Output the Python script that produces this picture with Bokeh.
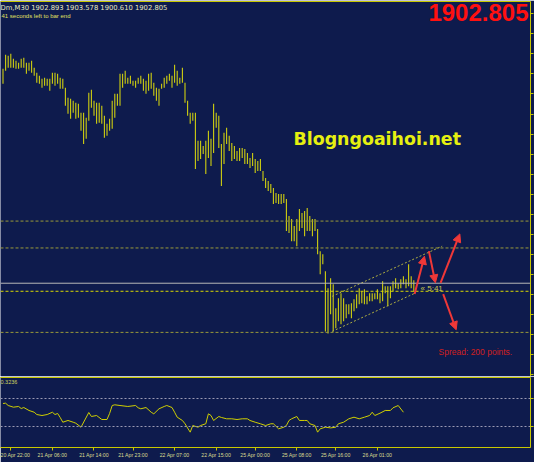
from bokeh.plotting import figure
from bokeh.models import (Range1d, LinearAxis, FixedTicker,
                          Label, Arrow, NormalHead, ColumnDataSource, Span)
from bokeh.layouts import column
from bokeh.embed import file_html
from bokeh.resources import INLINE

# ---------------- data ----------------
highs = [
    1956.30, 1959.80, 1959.55, 1960.05, 1958.80, 1958.30, 1957.80, 1958.80, 1959.05, 1957.80,
    1957.80, 1958.30, 1956.55, 1955.30, 1954.55, 1953.80, 1954.05, 1953.80, 1953.80, 1955.30,
    1955.30, 1955.05, 1954.05, 1953.80, 1951.55, 1949.05, 1948.80, 1948.30, 1947.80, 1947.55,
    1945.30, 1945.30, 1944.05, 1950.30, 1951.05, 1948.30, 1947.80, 1947.80, 1947.05, 1944.55,
    1942.55, 1943.80, 1948.30, 1950.05, 1950.05, 1955.05, 1955.05, 1955.80, 1954.05, 1954.55,
    1953.30, 1953.30, 1954.05, 1954.55, 1953.80, 1953.30, 1955.05, 1955.30, 1952.80, 1951.55,
    1951.30, 1952.55, 1954.05, 1954.55, 1955.05, 1954.55, 1957.30, 1955.80, 1954.05, 1956.55,
    1952.80, 1948.30, 1945.30, 1945.30, 1945.30, 1938.30, 1938.30, 1937.05, 1938.30, 1940.80,
    1938.80, 1947.55, 1945.30, 1944.55, 1937.55, 1940.30, 1941.55, 1939.55, 1937.80, 1937.05,
    1935.80, 1936.55, 1936.55, 1936.30, 1935.30, 1934.05, 1935.30, 1933.80, 1933.30, 1933.80,
    1930.80, 1929.05, 1928.30, 1927.55, 1926.55, 1925.30, 1925.05, 1925.05, 1925.05, 1923.80,
    1919.55, 1918.80, 1917.05, 1918.80, 1921.30, 1920.30, 1920.80, 1921.55, 1919.55, 1918.80,
    1918.80, 1916.30, 1910.80, 1910.05, 1905.80, 1901.55, 1904.05, 1902.55, 1896.55, 1899.05,
    1900.30, 1899.05, 1897.55, 1897.55, 1897.80, 1898.80, 1900.05, 1901.55, 1900.80, 1901.30,
    1899.55, 1900.30, 1900.30, 1900.30, 1901.30, 1900.30, 1903.30, 1902.05, 1902.05, 1902.05,
    1903.30, 1904.05, 1902.80, 1903.80, 1904.55, 1903.80, 1907.55, 1904.55, 1903.578,
]
lows = [
    1952.55, 1955.80, 1956.55, 1956.55, 1956.55, 1956.30, 1956.30, 1956.55, 1956.55, 1955.05,
    1955.80, 1955.30, 1954.55, 1952.80, 1952.55, 1951.55, 1952.05, 1952.05, 1950.80, 1952.55,
    1952.05, 1952.55, 1951.30, 1951.30, 1947.05, 1945.05, 1943.80, 1945.30, 1943.80, 1944.05,
    1940.80, 1937.55, 1938.80, 1943.30, 1946.55, 1944.55, 1942.55, 1942.80, 1942.55, 1939.05,
    1939.55, 1940.80, 1941.30, 1944.05, 1947.05, 1947.05, 1951.55, 1952.55, 1952.55, 1952.55,
    1952.05, 1951.55, 1952.55, 1952.55, 1950.80, 1950.05, 1950.80, 1951.30, 1949.55, 1948.30,
    1947.05, 1951.30, 1951.55, 1952.55, 1953.30, 1951.55, 1952.80, 1952.05, 1952.55, 1952.80,
    1947.80, 1944.55, 1942.55, 1943.30, 1931.30, 1933.30, 1933.80, 1935.05, 1930.05, 1934.05,
    1932.05, 1935.30, 1941.55, 1936.55, 1927.05, 1932.55, 1937.55, 1935.80, 1933.30, 1933.80,
    1933.30, 1933.30, 1934.05, 1932.55, 1932.55, 1931.55, 1932.05, 1930.30, 1930.80, 1930.80,
    1928.30, 1926.55, 1925.80, 1925.30, 1922.55, 1922.80, 1922.55, 1922.55, 1922.80, 1915.80,
    1915.30, 1913.30, 1913.30, 1912.05, 1915.80, 1916.55, 1914.55, 1915.80, 1915.80, 1914.55,
    1915.80, 1910.05, 1905.05, 1907.55, 1890.80, 1890.30, 1895.05, 1890.80, 1891.55, 1893.30,
    1892.55, 1893.30, 1894.05, 1895.05, 1894.05, 1895.80, 1896.55, 1897.55, 1897.80, 1897.55,
    1897.55, 1898.30, 1898.30, 1898.80, 1898.80, 1897.80, 1898.30, 1900.30, 1897.05, 1899.05,
    1900.80, 1901.55, 1901.30, 1901.55, 1902.55, 1901.55, 1902.05, 1901.55, 1900.61,
]
bar_index = list(range(len(highs)))

ind_index = [0, 1, 2, 4, 6, 7, 8, 10, 12, 13, 15, 17, 19, 20, 21, 22, 23, 25, 27, 28,
             30, 33, 34, 36, 38, 40, 41, 42, 43, 45, 48, 51, 52, 53, 55, 57, 58, 60, 62, 63,
             65, 66, 67, 69, 70, 72, 73, 75, 76, 78, 79, 80, 81, 83, 84, 86, 88, 90, 92, 94,
             95, 97, 99, 101, 103, 104, 106, 108, 109, 110, 111, 113, 114, 116, 117, 118, 120, 121, 122, 124,
             126, 128, 129, 131, 133, 135, 137, 139, 141, 142, 143, 145, 147, 149, 150, 152, 154]
ind_values = [62.9, 63.3, 60.0, 57.6, 58.6, 55.7, 57.1, 52.9, 50.4, 47.1, 45.7, 47.1, 50.4, 47.1, 48.6, 42.9, 36.1, 38.6, 36.1, 34.7,
              29.0, 50.0, 44.3, 45.7, 40.0, 40.0, 48.6, 60.0, 61.0, 60.0, 58.6, 60.0, 56.7, 55.3, 57.1, 50.4, 48.1, 55.3, 58.6, 60.0,
              57.1, 50.4, 43.3, 38.6, 33.9, 21.9, 31.4, 29.0, 31.4, 33.9, 48.1, 45.7, 38.6, 44.3, 42.9, 41.0, 41.0, 40.0, 41.0, 41.0,
              38.6, 36.1, 33.9, 31.4, 33.9, 33.9, 26.7, 29.0, 31.4, 38.6, 41.0, 44.3, 38.6, 38.6, 38.6, 33.9, 31.4, 21.9, 26.7, 29.0,
              28.0, 29.0, 33.9, 36.1, 41.0, 43.3, 41.0, 43.3, 45.7, 50.4, 45.7, 49.0, 52.9, 52.9, 56.7, 60.0, 50.4]

tick_index = [3, 19, 35, 50, 66, 82, 97, 113, 128, 144]
tick_labels = ["20 Apr 22:00", "21 Apr 06:00", "21 Apr 14:00", "21 Apr 23:00", "22 Apr 07:00",
               "22 Apr 15:00", "25 Apr 00:00", "25 Apr 08:00", "25 Apr 16:00", "26 Apr 01:00"]

price_ticks = [1880, 1885, 1890, 1895, 1900, 1905, 1910, 1915, 1920, 1925, 1930,
               1935, 1940, 1945, 1950, 1955, 1960, 1965, 1970]

levels = [1918.3, 1911.6, 1900.8, 1890.55]
level_colors = ["#9a9a3a", "#9a9a3a", "#d8d800", "#9a9a3a"]
bid_price = 1902.805
ind_levels = [70, 30]

channel_x0 = [126.6, 126.6]
channel_y0 = [1899.55, 1890.8]
channel_x1 = [168.9, 158.7]
channel_y1 = [1912.05, 1900.4]

arrow_x0 = [158.3, 163.8, 168.3, 169.3]
arrow_y0 = [1900.1, 1910.8, 1902.9, 1900.1]
arrow_x1 = [162.1, 166.3, 175.7, 174.3]
arrow_y1 = [1909.55, 1902.9, 1915.1, 1891.2]

header = "Dm,M30  1902.893 1903.578 1900.610 1902.805"
countdown = "41 seconds left to bar end"
ind_label = "0.3236"

# ---------------- style ----------------
BG = "#0e1b4d"
YEL = "#c8c800"
BAR = "#cfcf10"
RED = "#f03838"
FONT = "Liberation Sans"

xr = Range1d(-0.96, 202.88)

p = figure(width=534, height=376, x_range=xr, y_range=Range1d(1879.55, 1973.05),
           output_backend="svg", toolbar_location=None,
           x_axis_location=None, y_axis_location=None,
           min_border_left=0, min_border_right=4, min_border_top=1, min_border_bottom=0,
           background_fill_color=BG, border_fill_color=BG, outline_line_color=None)
p.grid.visible = False


def border_axis(minor=None):
    ax = LinearAxis(ticker=FixedTicker(ticks=[], minor_ticks=minor or []),
                    axis_line_color=YEL, axis_line_width=1,
                    major_tick_line_color=None, major_tick_out=0, major_tick_in=0,
                    minor_tick_line_color=YEL if minor else None,
                    minor_tick_out=3, minor_tick_in=0,
                    major_label_standoff=0)
    return ax


p.add_layout(border_axis(price_ticks), "right")
p.add_layout(border_axis(), "above")
p.add_layout(border_axis(), "below")

for lv, lc in zip(levels, level_colors):
    p.add_layout(Span(location=lv, dimension="width", line_color=lc,
                      line_width=1, line_dash="3 2"))
p.add_layout(Span(location=bid_price, dimension="width", line_color="#b8b8b8", line_width=1))

src = ColumnDataSource(dict(i=bar_index, high=highs, low=lows))
p.segment(x0="i", y0="low", x1="i", y1="high", source=src, line_color=BAR, line_width=1.1)

p.segment(x0=channel_x0, y0=channel_y0, x1=channel_x1, y1=channel_y1,
          line_color="#b0b040", line_width=1, line_dash="2 2")

asrc = ColumnDataSource(dict(x0=arrow_x0, y0=arrow_y0, x1=arrow_x1, y1=arrow_y1))
p.add_layout(Arrow(end=NormalHead(size=8, fill_color=RED, line_color=RED, line_width=1),
                   x_start="x0", y_start="y0", x_end="x1", y_end="y1", source=asrc,
                   line_color=RED, line_width=2))

p.add_layout(Label(x=0, y=372.5, x_units="screen", y_units="screen", text=header,
                   text_font="DejaVu Sans", text_font_size="6.8px", text_color="#e8e8c0",
                   text_baseline="top", text_align="left"))
p.add_layout(Label(x=1, y=363.5, x_units="screen", y_units="screen", text=countdown,
                   text_font=FONT, text_font_size="6px", text_color="#e0e060",
                   text_baseline="top", text_align="left"))
p.add_layout(Label(x=528, y=373, x_units="screen", y_units="screen", text="1902.805",
                   text_font=FONT, text_font_size="24px", text_font_style="bold",
                   text_color="#ff1010", text_baseline="top", text_align="right"))
p.add_layout(Label(x=293, y=248, x_units="screen", y_units="screen", text="Blogngoaihoi.net",
                   text_font="DejaVu Sans", text_font_size="17.4px", text_font_style="bold",
                   text_color="#e6f010", text_baseline="top", text_align="left"))
p.add_layout(Label(x=438, y=30, x_units="screen", y_units="screen", text="Spread: 200 points.",
                   text_font=FONT, text_font_size="8.5px",
                   text_color="#d02020", text_baseline="top", text_align="left"))
p.add_layout(Label(x=160.6, y=1901.55, text="« 5:41",
                   text_font=FONT, text_font_size="8px",
                   text_color="#c8c850", text_baseline="middle", text_align="left"))

# ---------------- indicator panel ----------------
q = figure(width=534, height=86, x_range=xr, y_range=Range1d(0, 100),
           output_backend="svg", toolbar_location=None,
           x_axis_location=None, y_axis_location=None,
           min_border_left=0, min_border_right=4, min_border_top=1, min_border_bottom=15,
           background_fill_color=BG, border_fill_color=BG, outline_line_color=None)
q.grid.visible = False
q.add_layout(border_axis(ind_levels), "right")
q.add_layout(border_axis(), "above")

xax = LinearAxis(ticker=FixedTicker(ticks=tick_index),
                 major_label_overrides={t: s for t, s in zip(tick_index, tick_labels)},
                 axis_line_color=YEL, major_tick_line_color=YEL,
                 major_tick_out=3, major_tick_in=0, minor_tick_line_color=None,
                 major_label_standoff=1, major_label_text_align="left",
                 major_label_text_font=FONT, major_label_text_font_size="5.2px",
                 major_label_text_color="#dcdc90")
q.add_layout(xax, "below")

for lv in ind_levels:
    q.add_layout(Span(location=lv, dimension="width", line_color="#9a9ab4",
                      line_width=1, line_dash="2 2"))
q.line(x=ind_index, y=ind_values, line_color="#d0d000", line_width=1)
q.add_layout(Label(x=0, y=68, x_units="screen", y_units="screen", text=ind_label,
                   text_font=FONT, text_font_size="5.5px", text_color="#d0d060",
                   text_baseline="top", text_align="left"))

layout = column(p, q, spacing=0)

open("out.html", "w").write(file_html(layout, INLINE))
